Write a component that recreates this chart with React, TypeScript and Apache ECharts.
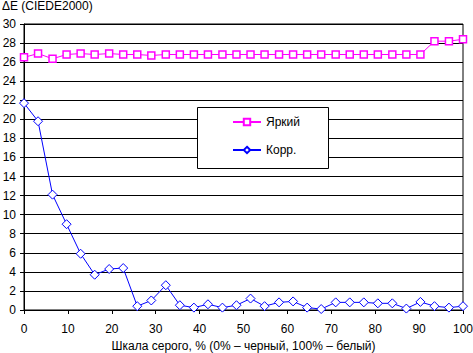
import React, { useEffect, useRef } from "react";
import * as echarts from "echarts";

const xValues = [
  0, 3.2, 6.5, 9.7, 12.9, 16.1, 19.4, 22.6, 25.8, 29.0, 32.3, 35.5, 38.7, 41.9, 45.2, 48.4,
  51.6, 54.8, 58.1, 61.3, 64.5, 67.7, 71.0, 74.2, 77.4, 80.6, 83.9, 87.1, 90.3, 93.5, 96.8, 100,
];
const brightValues = [
  26.5, 26.9, 26.35, 26.8, 26.9, 26.8, 26.9, 26.8, 26.8, 26.7, 26.8, 26.8, 26.8, 26.8, 26.8, 26.8,
  26.8, 26.8, 26.8, 26.8, 26.8, 26.8, 26.8, 26.8, 26.8, 26.8, 26.8, 26.8, 26.8, 28.2, 28.2, 28.4,
];
const corrValues = [
  21.7, 19.8, 12.1, 9.0, 5.9, 3.7, 4.3, 4.4, 0.4, 1.0, 2.6, 0.5, 0.25, 0.6, 0.25, 0.5,
  1.2, 0.4, 0.8, 0.9, 0.25, 0.1, 0.8, 0.8, 0.8, 0.7, 0.7, 0.15, 0.85, 0.4, 0.25, 0.4,
];
const seriesNames = ["Яркий", "Корр."];
const yTitle = "ΔE (CIEDE2000)";
const xTitle = "Шкала серого, % (0% – черный, 100% – белый)";

const FONT = "'Liberation Sans', Arial, sans-serif";

export default function App() {
  const ref = useRef<HTMLDivElement>(null);
  useEffect(() => {
    if (!ref.current) return;
    const chart = echarts.init(ref.current, undefined, { renderer: "svg" });
    chart.setOption({
      animation: false,
      backgroundColor: "#ffffff",
      textStyle: { fontFamily: FONT, fontSize: 12, color: "#000" },
      grid: {
        left: 24,
        right: 10,
        top: 24,
        bottom: 43,
        outerBoundsMode: "none",
        containLabel: false,
        show: true,
        borderColor: "#000",
        borderWidth: 1,
        backgroundColor: "transparent",
      },
      graphic: [
        {
          type: "text",
          left: 2,
          top: 0,
          z: 10,
          style: { text: yTitle, font: `12px ${FONT}`, fill: "#000" },
        },
        {
          type: "rect",
          shape: { x: 197.5, y: 107.5, width: 131, height: 61 },
          z: 10,
          style: { fill: "#fff", stroke: "#000", lineWidth: 1 },
        },
      ],
      legend: {
        left: 232,
        top: 116,
        orient: "vertical",
        padding: 0,
        itemGap: 16,
        itemWidth: 28,
        itemHeight: 8,
        z: 20,
        textStyle: { fontFamily: FONT, fontSize: 12, color: "#000" },
        data: seriesNames,
      },
      xAxis: {
        type: "value",
        min: 0,
        max: 100,
        interval: 10,
        name: xTitle,
        nameLocation: "middle",
        nameGap: 29,
        nameTextStyle: { fontFamily: FONT, fontSize: 12, color: "#000" },
        axisLine: { show: true, onZero: false, lineStyle: { color: "#000", width: 1 } },
        axisTick: { show: true, length: 4, lineStyle: { color: "#000" } },
        axisLabel: { margin: 13, fontFamily: FONT, fontSize: 12, color: "#000" },
        splitLine: { show: false },
      },
      yAxis: {
        type: "value",
        min: 0,
        max: 30,
        interval: 2,
        axisLine: { show: true, lineStyle: { color: "#000", width: 1 } },
        axisTick: { show: true, length: 4, lineStyle: { color: "#000" } },
        axisLabel: { margin: 8, fontFamily: FONT, fontSize: 12, color: "#000" },
        splitLine: { show: true, lineStyle: { color: "#000", width: 1 } },
      },
      series: [
        {
          name: seriesNames[0],
          type: "line",
          data: xValues.map((x, i) => [x, brightValues[i]]),
          symbol: "rect",
          symbolSize: 7,
          showAllSymbol: true,
          lineStyle: { color: "#ff00ff", width: 1 },
          itemStyle: { color: "#ffffff", borderColor: "#ff00ff", borderWidth: 1.5 },
          emphasis: { disabled: true },
        },
        {
          name: seriesNames[1],
          type: "line",
          data: xValues.map((x, i) => [x, corrValues[i]]),
          symbol: "diamond",
          symbolSize: 9,
          showAllSymbol: true,
          lineStyle: { color: "#0000ff", width: 1 },
          itemStyle: { color: "#ffffff", borderColor: "#0000ff", borderWidth: 1 },
          emphasis: { disabled: true },
        },
      ],
    });
    return () => chart.dispose();
  }, []);
  return <div ref={ref} style={{ width: 473, height: 353, position: "absolute", left: 0, top: 0 }} />;
}
